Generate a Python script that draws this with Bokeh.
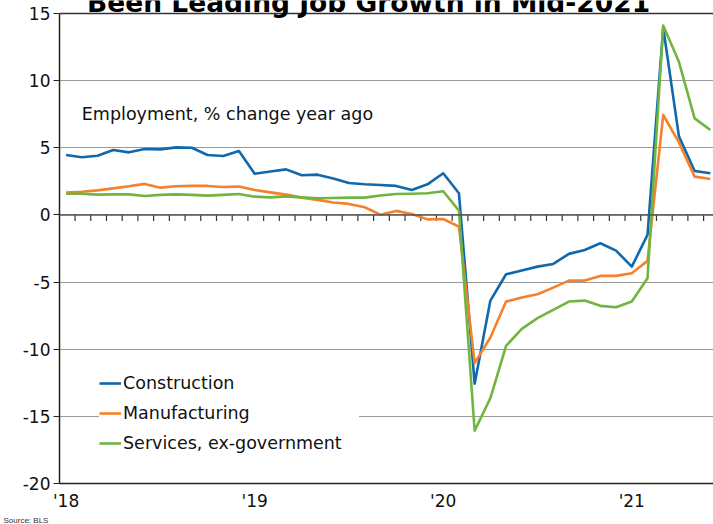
from bokeh.plotting import figure
from bokeh.models import (Range1d, FixedTicker, Label, Span, Legend, LegendItem, Title)
from bokeh.embed import file_html
from bokeh.resources import INLINE

# Monthly, Jan 2018 .. Jun 2021 (index 0..41)
months = list(range(42))
construction = [4.46, 4.29, 4.41, 4.84, 4.66, 4.91, 4.88, 5.03, 5.00, 4.46, 4.39, 4.76,
                3.07, 3.24, 3.39, 2.95, 3.00, 2.72, 2.38, 2.28, 2.23, 2.16, 1.86, 2.28,
                3.10, 1.61, -12.57, -6.38, -4.42, -4.14, -3.85, -3.65, -2.90, -2.61, -2.11, -2.66,
                -3.85, -1.49, 13.95, 5.85, 3.27, 3.10]
manufacturing = [1.66, 1.73, 1.83, 1.98, 2.13, 2.31, 2.03, 2.13, 2.16, 2.16, 2.08, 2.11,
                 1.86, 1.68, 1.51, 1.29, 1.12, 0.92, 0.82, 0.57, 0.02, 0.30, 0.07, -0.33,
                 -0.30, -0.87, -11.04, -9.13, -6.45, -6.15, -5.91, -5.41, -4.89, -4.89, -4.54, -4.54,
                 -4.34, -3.42, 7.44, 5.40, 2.85, 2.68]
services = [1.58, 1.58, 1.51, 1.53, 1.53, 1.41, 1.49, 1.53, 1.49, 1.44, 1.49, 1.56,
            1.36, 1.31, 1.38, 1.31, 1.24, 1.26, 1.29, 1.29, 1.45, 1.56, 1.58, 1.61,
            1.76, 0.32, -16.07, -13.64, -9.75, -8.48, -7.69, -7.07, -6.45, -6.38, -6.77, -6.87,
            -6.45, -4.71, 14.10, 11.40, 7.19, 6.32]
year_ticks = [0, 12, 24, 36]
year_labels = ["'18", "'19", "'20", "'21"]
y_ticks = [-20, -15, -10, -5, 0, 5, 10, 15]
y_labels = ["-20", "-15", "-10", "-5", "0", "5", "10", "15"]
series_names = ["Construction", "Manufacturing", "Services, ex-government"]
colors = ["#1068ad", "#f5812c", "#70b540"]

FONT = "DejaVu Sans"

# the frame reaches the top of the picture so that the cut-off title lies inside it
p = figure(width=713, height=524, output_backend="svg", toolbar_location=None,
           x_range=Range1d(-0.42, 41.2), y_range=Range1d(-20, 15.968),
           min_border_left=59, min_border_right=0, min_border_top=0, min_border_bottom=41)
p.outline_line_color = None
p.background_fill_color = "white"
p.border_fill_color = "white"

# Axes
p.xaxis.ticker = FixedTicker(ticks=year_ticks)
p.xaxis.major_label_overrides = {t: l for t, l in zip(year_ticks, year_labels)}
p.xaxis.major_tick_out = 0
p.xaxis.major_tick_in = 0
p.xaxis.minor_tick_out = 0
p.xaxis.minor_tick_in = 0
p.xaxis.axis_line_color = "#222222"
p.xaxis.axis_line_width = 1.5
p.xaxis.major_label_standoff = 7
p.xaxis.major_label_text_font = FONT
p.xaxis.major_label_text_font_size = "17px"
p.xaxis.major_label_text_color = "#111111"

p.yaxis.ticker = FixedTicker(ticks=y_ticks)
p.yaxis.bounds = (min(y_ticks), max(y_ticks))
p.yaxis.major_label_overrides = {t: l for t, l in zip(y_ticks, y_labels)}
p.yaxis.major_tick_out = 6
p.yaxis.major_tick_in = 0
p.yaxis.minor_tick_out = 0
p.yaxis.major_tick_line_color = "#222222"
p.yaxis.axis_line_color = "#222222"
p.yaxis.axis_line_width = 1.5
p.yaxis.major_label_standoff = 3
p.yaxis.major_label_text_font = FONT
p.yaxis.major_label_text_font_size = "17px"
p.yaxis.major_label_text_color = "#111111"

p.xgrid.grid_line_color = None
p.ygrid.ticker = FixedTicker(ticks=y_ticks)
p.ygrid.grid_line_color = "#9a9a9a"
p.ygrid.grid_line_width = 1

# top line and zero line
p.add_layout(Span(location=15, dimension="width", line_color="#333333", line_width=1.5))
p.add_layout(Span(location=0, dimension="width", line_color="#555555", line_width=1.5))

# month tick marks on zero line
tick_x = [m + 0.57 for m in months[:-1]]
p.segment(x0=tick_x, y0=[0] * len(tick_x), x1=tick_x, y1=[-0.45] * len(tick_x),
          line_color="#333333", line_width=1.2)

renderers = []
for name, vals, c in zip(series_names, [construction, manufacturing, services], colors):
    r = p.line(months, vals, line_color=c, line_width=2.6, line_join="round")
    renderers.append((name, r))

legend = Legend(items=[LegendItem(label=n, renderers=[r]) for n, r in renderers],
                location=(40, 30), padding=14, spacing=10, margin=0,
                glyph_width=22, glyph_height=20, label_height=20, label_width=236,
                label_standoff=2,
                label_text_font=FONT, label_text_font_size="17.5px",
                label_text_color="#111111",
                background_fill_color="white", background_fill_alpha=1.0,
                border_line_color=None)
p.add_layout(legend, "center")

p.add_layout(Label(x=1.0, y=7.5, text="Employment, % change year ago",
                   text_font=FONT, text_font_size="17.5px", text_color="#111111",
                   text_baseline="middle"))

# Title, cut off at the top of the picture (as in the reference)
p.add_layout(Label(x=19.25, y=15.82,
                   text="Been Leading Job Growth in Mid-2021",
                   text_font=FONT, text_font_style="bold", text_font_size="26.5px",
                   text_color="#000000", text_align="center", text_baseline="middle"))

# Source note in the bottom-left corner
p.add_layout(Title(text="Source: BLS", align="left", offset=-56, standoff=0,
                   text_font="Liberation Sans", text_font_size="8px",
                   text_font_style="normal", text_color="#333333"), "below")

open("out.html", "w").write(file_html(p, INLINE))
